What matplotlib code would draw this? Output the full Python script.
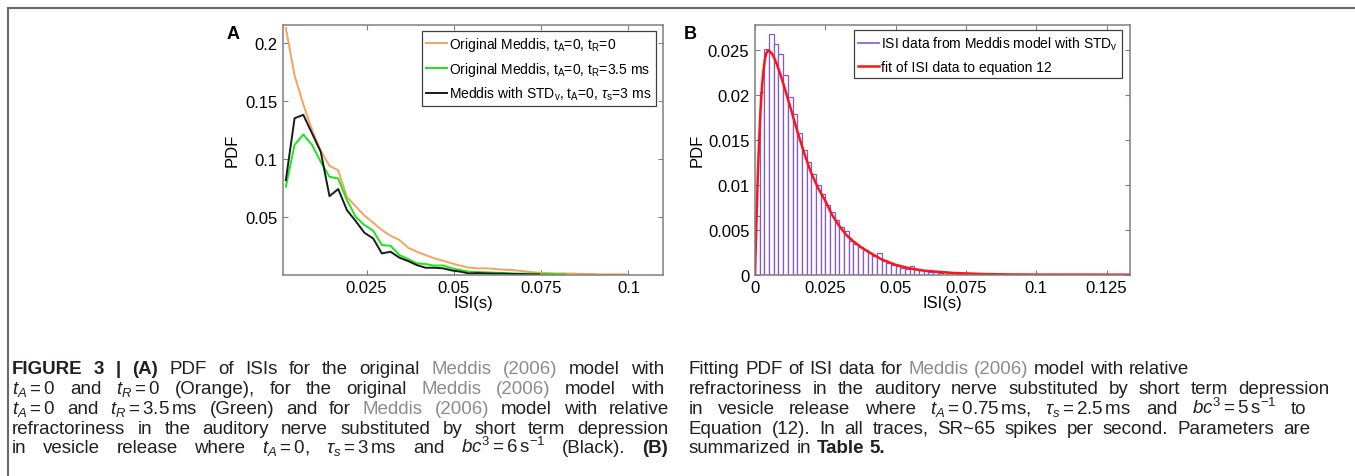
import numpy as np
import matplotlib
matplotlib.use("Agg")
import matplotlib.pyplot as plt
from matplotlib.lines import Line2D

plt.rcParams['font.family'] = ['Liberation Sans', 'DejaVu Sans']
plt.rcParams['mathtext.fontset'] = 'custom'
plt.rcParams['mathtext.rm'] = 'Liberation Sans'
plt.rcParams['mathtext.it'] = 'Liberation Sans:italic'
plt.rcParams['mathtext.bf'] = 'Liberation Sans:bold'

# ---- Panel A: PDF of ISIs (bin centres, s) ----
isi_a = [0.0019, 0.0044, 0.0069, 0.0094, 0.0119, 0.0144, 0.0169, 0.0194, 0.0219, 0.0244,
         0.0269, 0.0294, 0.0319, 0.0344, 0.0369, 0.0394, 0.0419, 0.0444, 0.0469, 0.0494,
         0.0519, 0.0544, 0.0569, 0.0594, 0.0619, 0.0644, 0.0669, 0.0694, 0.0719, 0.0744,
         0.0769, 0.0794, 0.0819, 0.0844, 0.0869, 0.0894, 0.0919, 0.0944, 0.0969, 0.0994]
pdf_orig = [0.213, 0.172, 0.147, 0.125, 0.107, 0.094, 0.090, 0.067, 0.059, 0.051,
            0.045, 0.0385, 0.0336, 0.030, 0.0233, 0.0198, 0.017, 0.0141, 0.0121, 0.0098,
            0.0078, 0.006, 0.0055, 0.0055, 0.0049, 0.0043, 0.004, 0.0032, 0.0023, 0.0017,
            0.0014, 0.0011, 0.0011, 0.0009, 0.0006, 0.0006, 0.0003, 0.0003, 0.0003, 0.0003]
pdf_refr = [0.0759, 0.112, 0.121, 0.112, 0.0974, 0.0845, 0.083, 0.0644, 0.050, 0.0428,
            0.038, 0.0256, 0.025, 0.017, 0.0135, 0.0098, 0.0092, 0.0078, 0.008, 0.0055,
            0.004, 0.0026, 0.0023, 0.002, 0.0017, 0.0014, 0.0011, 0.0009, 0.0009, 0.0006,
            0.0006, 0.0003, 0.0003]
pdf_stdv = [0.0816, 0.135, 0.138, 0.122, 0.106, 0.0678, 0.0739, 0.0557, 0.0463, 0.0362,
            0.0313, 0.0184, 0.0198, 0.0147, 0.0118, 0.0083, 0.006, 0.006, 0.0055, 0.0037,
            0.0026, 0.0011, 0.0014, 0.0011, 0.0009, 0.0009, 0.0006, 0.0006, 0.0003, 0.0003]
labels_a = [r'Original Meddis, t$_\mathrm{A}$=0, t$_\mathrm{R}$=0',
            r'Original Meddis, t$_\mathrm{A}$=0, t$_\mathrm{R}$=3.5 ms',
            r'Meddis with STD$_\mathrm{v}$, t$_\mathrm{A}$=0, $\tau_\mathrm{s}$=3 ms']

# ---- Panel B: ISI histogram + fit ----
bin_w = 0.1333 / 80
hist_b = [0.0065, 0.0203, 0.0251, 0.0268, 0.0257, 0.0245, 0.0222, 0.0198, 0.0179, 0.0158,
          0.0139, 0.0125, 0.0112, 0.0100, 0.0090, 0.0078, 0.0070, 0.0061, 0.0053, 0.0049,
          0.0037, 0.0034, 0.0031, 0.0028, 0.0024, 0.0021, 0.0024, 0.0015, 0.0013, 0.0011,
          0.0010, 0.0008, 0.0006, 0.0010, 0.0006, 0.0005, 0.0004, 0.0003, 0.0003, 0.0002,
          0.0003, 0.0003, 0.0002, 0.0001, 0.0001, 0.0002, 0.00015, 0.0001, 0.00005, 0.00005,
          0.00005, 0.0, 0.00005, 0.0, 0.0001]
fit_x = [0.0, 0.0005, 0.001, 0.0015, 0.002, 0.0025, 0.003, 0.0035, 0.004, 0.0045,
         0.005, 0.006, 0.007, 0.008, 0.009, 0.010, 0.0125, 0.015, 0.0175, 0.020,
         0.0225, 0.025, 0.0275, 0.030, 0.0325, 0.035, 0.0375, 0.040, 0.045, 0.050,
         0.055, 0.060, 0.070, 0.080, 0.090, 0.100, 0.1333]
fit_y = [0.0, 0.0058, 0.0110, 0.0152, 0.0185, 0.0210, 0.0227, 0.0239, 0.0246, 0.0249,
         0.0249, 0.0246, 0.0240, 0.0232, 0.0223, 0.0213, 0.0187, 0.0160, 0.0135, 0.0113,
         0.0096, 0.0082, 0.0066, 0.0054, 0.0044, 0.0037, 0.0031, 0.0026, 0.0017, 0.0011,
         0.0007, 0.00045, 0.0002, 0.00008, 0.00003, 0.00001, 0.0]
labels_b = [r'ISI data from Meddis model with STD$_\mathrm{v}$', 'fit of ISI data to equation 12']

# ---- caption (text, style) chunks per line ----
cap_left = [
    [("FIGURE 3 | (A)", "b"), ("PDF of ISIs for the original", "n"), ("Meddis (2006)", "g"), ("model with", "n")],
    [(r"$t_A=0$ and $t_R=0$ (Orange), for the original", "n"), ("Meddis (2006)", "g"), ("model with", "n")],
    [(r"$t_A=0$ and $t_R=3.5\,\mathrm{ms}$ (Green) and for", "n"), ("Meddis (2006)", "g"), ("model with relative", "n")],
    [("refractoriness in the auditory nerve substituted by short term depression", "n")],
    [(r"in vesicle release where $t_A=0$, $\tau_s=3\,\mathrm{ms}$ and $bc^3=6\,\mathrm{s}^{-1}$ (Black).", "n"), ("(B)", "b")],
]
cap_right = [
    [("Fitting PDF of ISI data for", "n"), ("Meddis (2006)", "g"), ("model with relative", "n")],
    [("refractoriness in the auditory nerve substituted by short term depression", "n")],
    [(r"in vesicle release where $t_A=0.75\,\mathrm{ms}$, $\tau_s=2.5\,\mathrm{ms}$ and $bc^3=5\,\mathrm{s}^{-1}$ to", "n")],
    [("Equation (12). In all traces, SR~65 spikes per second. Parameters are", "n")],
    [("summarized in", "n"), ("Table 5.", "b")],
]
# right ends of the justified caption lines (None = ragged)
ends_left = [664, 664, 669, 669, 668]
ends_right = [None, 1330, 1306, 1310, None]

W, H = 1355, 477
fig = plt.figure(figsize=(W / 100, H / 100), dpi=100)


def box(l, t, r, b):
    return [l / W, 1 - b / H, (r - l) / W, (b - t) / H]


def style_axes(ax):
    for s in ax.spines.values():
        s.set_color('#7f7f7f')
        s.set_linewidth(1.1)
    ax.tick_params(direction='in', top=True, right=True, length=3.5, width=0.8,
                   color='#7f7f7f', labelsize=12, pad=4)


# Panel A
axA = fig.add_axes(box(282.7, 26, 663.3, 275.7))
axA.plot(isi_a, pdf_orig, color='#f7a35c', lw=1.4, label=labels_a[0])
axA.plot(isi_a[:len(pdf_refr)], pdf_refr, color='#19e619', lw=1.4, label=labels_a[1])
axA.plot(isi_a[:len(pdf_stdv)], pdf_stdv, color='#1a1a1a', lw=1.4, label=labels_a[2])
axA.set_xlim(0.001, 0.11)
axA.set_ylim(0, 0.2155)
axA.set_xticks([0.025, 0.05, 0.075, 0.1], ['0.025', '0.05', '0.075', '0.1'])
axA.set_yticks([0.05, 0.1, 0.15, 0.2], ['0.05', '0.1', '0.15', '0.2'])
axA.set_xlabel('ISI(s)', fontsize=12, labelpad=0)
axA.set_ylabel('PDF', fontsize=12, labelpad=4)
style_axes(axA)
legA = axA.legend(loc='upper right', bbox_to_anchor=(0.980, 0.977), borderaxespad=0,
                  fontsize=10, fancybox=False, edgecolor='#404040', framealpha=1,
                  handlelength=1.5, handletextpad=0.15, labelspacing=0.5, borderpad=0.3)
legA.get_frame().set_linewidth(0.9)
fig.text(226.5 / W, 1 - 39.5 / H, 'A', fontsize=13, fontweight='bold', va='baseline')

# Panel B
purple = '#8557d6'
axB = fig.add_axes(box(755, 25.7, 1130, 275.7))
edges = np.arange(len(hist_b)) * bin_w
axB.bar(edges, hist_b, width=bin_w, align='edge', facecolor='white', edgecolor=purple, linewidth=0.9)
axB.plot(fit_x, fit_y, color='#ff1414', lw=1.8)
axB.set_xlim(0, 0.1333)
axB.set_ylim(0, 0.0278)
axB.set_xticks([0, 0.025, 0.05, 0.075, 0.1, 0.125], ['0', '0.025', '0.05', '0.075', '0.1', '0.125'])
axB.set_yticks([0, 0.005, 0.01, 0.015, 0.02, 0.025], ['0', '0.005', '0.01', '0.015', '0.02', '0.025'])
axB.set_xlabel('ISI(s)', fontsize=12, labelpad=0)
axB.set_ylabel('PDF', fontsize=12, labelpad=2)
style_axes(axB)
handles_b = [Line2D([], [], color=purple, lw=1.2), Line2D([], [], color='#ff1414', lw=1.8)]
legB = axB.legend(handles_b, labels_b, loc='upper right', bbox_to_anchor=(0.978, 0.977),
                  borderaxespad=0, fontsize=10, fancybox=False, edgecolor='#404040', framealpha=1,
                  handlelength=1.5, handletextpad=0.15, labelspacing=0.55, borderpad=0.3)
legB.get_frame().set_linewidth(0.9)
fig.text(684 / W, 1 - 39.5 / H, 'B', fontsize=13, fontweight='bold', va='baseline')

# frame lines of the figure panel
fig.add_artist(Line2D([8 / W, 1], [1 - 9 / H, 1 - 9 / H], color='#6a6a6a', lw=1.5))
fig.add_artist(Line2D([8 / W, 8 / W], [0, 1 - 9 / H], color='#6a6a6a', lw=1.5))

# caption
cap_size = 13.5
cap_styles = {'n': dict(color='#231f20'),
              'b': dict(color='#231f20', fontweight='bold'),
              'g': dict(color='#8c8c8c')}
renderer = fig.canvas.get_renderer()


def caption_line(x0, y0, chunks, x1=None):
    words = []
    for text, st in chunks:
        for w in text.split(' '):
            words.append(fig.text(x0 / W, 1 - y0 / H, w, fontsize=cap_size,
                                  va='baseline', **cap_styles[st]))
    widths = [t.get_window_extent(renderer).width for t in words]
    gap = 0.3 * cap_size * 100 / 72
    if x1 is not None and len(words) > 1:
        gap = (x1 - x0 - sum(widths)) / (len(words) - 1)
    x = x0
    for t, w in zip(words, widths):
        t.set_x(x / W)
        x += w + gap


baselines = [374.5, 394.2, 413.9, 433.6, 453.3]
for line, yb, xe in zip(cap_left, baselines, ends_left):
    caption_line(12, yb, line, x1=xe)
for line, yb, xe in zip(cap_right, baselines, ends_right):
    caption_line(689, yb, line, x1=xe)

fig.savefig('out.png', dpi=100)
